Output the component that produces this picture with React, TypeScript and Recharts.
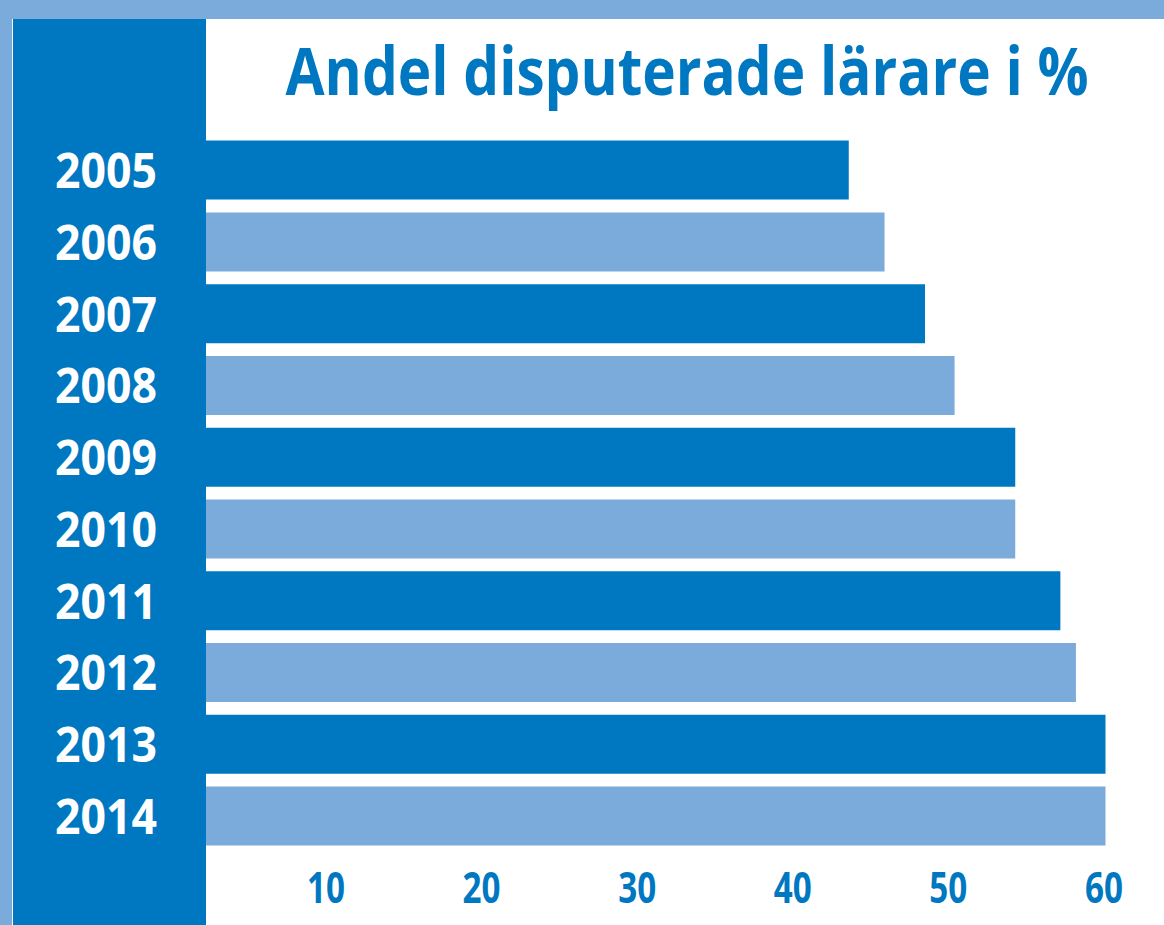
import { BarChart, Bar, XAxis, YAxis, Cell } from 'recharts'

// Andel disputerade lärare, %
const years = ['2005', '2006', '2007', '2008', '2009', '2010', '2011', '2012', '2013', '2014']
const shares = [43.6, 45.9, 48.5, 50.4, 54.3, 54.3, 57.2, 58.2, 60.1, 60.1]
const xTicks = [10, 20, 30, 40, 50, 60]
const TITLE = 'Andel disputerade lärare i %'

const DARK = '#0078c1'
const LIGHT = '#7babda'
const FONT = '"Open Sans", "Liberation Sans", sans-serif'

const data = years.map((year, i) => ({ year, share: shares[i] }))

// årtal i vit text på den mörka panelen
const YearTick = (props: any) => {
  const { x, y, payload } = props
  return (
    <text
      x={x - 49}
      y={y + 17.5}
      textAnchor="end"
      fill="#fff"
      fontSize={48}
      fontWeight={700}
      fontFamily={FONT}
      textLength={102}
      lengthAdjust="spacingAndGlyphs"
    >
      {payload.value}
    </text>
  )
}

const PctTick = (props: any) => {
  const { x, y, payload } = props
  return (
    <text
      x={x}
      y={y + 50.6}
      textAnchor="middle"
      fill={DARK}
      fontSize={43}
      fontWeight={700}
      fontFamily={FONT}
      textLength={38}
      lengthAdjust="spacingAndGlyphs"
    >
      {payload.value}
    </text>
  )
}

export default function App() {
  return (
    <div style={s.frame}>
      <div style={s.topBand} />
      <div style={s.leftBand} />
      <div style={s.panel} />

      {/* rubrik, centrerad över den vita ytan, lite hopträngd */}
      <svg width={1164} height={130} style={s.titleSvg}>
        <text
          transform="translate(687 95) scale(0.859 1)"
          textAnchor="middle"
          fill={DARK}
          fontSize={66}
          fontWeight={700}
          fontFamily={FONT}
        >
          {TITLE}
        </text>
      </svg>

      <div style={s.chart}>
        <BarChart
          width={1164}
          height={925}
          data={data}
          layout="vertical"
          margin={{ top: 134.6, right: 0, bottom: 0, left: 0 }}
        >
          <XAxis
            type="number"
            domain={[2.29, 63.86]}
            allowDataOverflow
            ticks={xTicks}
            axisLine={false}
            tickLine={false}
            tickSize={0}
            tickMargin={0}
            height={72.6}
            tick={<PctTick />}
          />
          <YAxis
            type="category"
            dataKey="year"
            width={206}
            axisLine={false}
            tickLine={false}
            tickSize={0}
            tickMargin={0}
            interval={0}
            tick={<YearTick />}
          />
          <Bar dataKey="share" barSize={59} isAnimationActive={false}>
            {data.map((d, i) => (
              <Cell key={d.year} fill={i % 2 === 0 ? DARK : LIGHT} />
            ))}
          </Bar>
        </BarChart>
      </div>
    </div>
  )
}

const s = {
  frame: {
    position: 'absolute' as const,
    left: 0,
    top: 0,
    width: 1164,
    height: 925,
    background: '#fff',
    overflow: 'hidden',
  } as React.CSSProperties,
  topBand: {
    position: 'absolute' as const,
    left: 0,
    top: 0,
    width: 1164,
    height: 19,
    background: LIGHT,
  } as React.CSSProperties,
  leftBand: {
    position: 'absolute' as const,
    left: 0,
    top: 0,
    width: 12,
    height: 925,
    background: LIGHT,
  } as React.CSSProperties,
  panel: {
    position: 'absolute' as const,
    left: 13,
    top: 19,
    width: 193,
    height: 906,
    background: DARK,
  } as React.CSSProperties,
  titleSvg: { position: 'absolute' as const, left: 0, top: 0 } as React.CSSProperties,
  chart: { position: 'absolute' as const, left: 0, top: 0 } as React.CSSProperties,
}
